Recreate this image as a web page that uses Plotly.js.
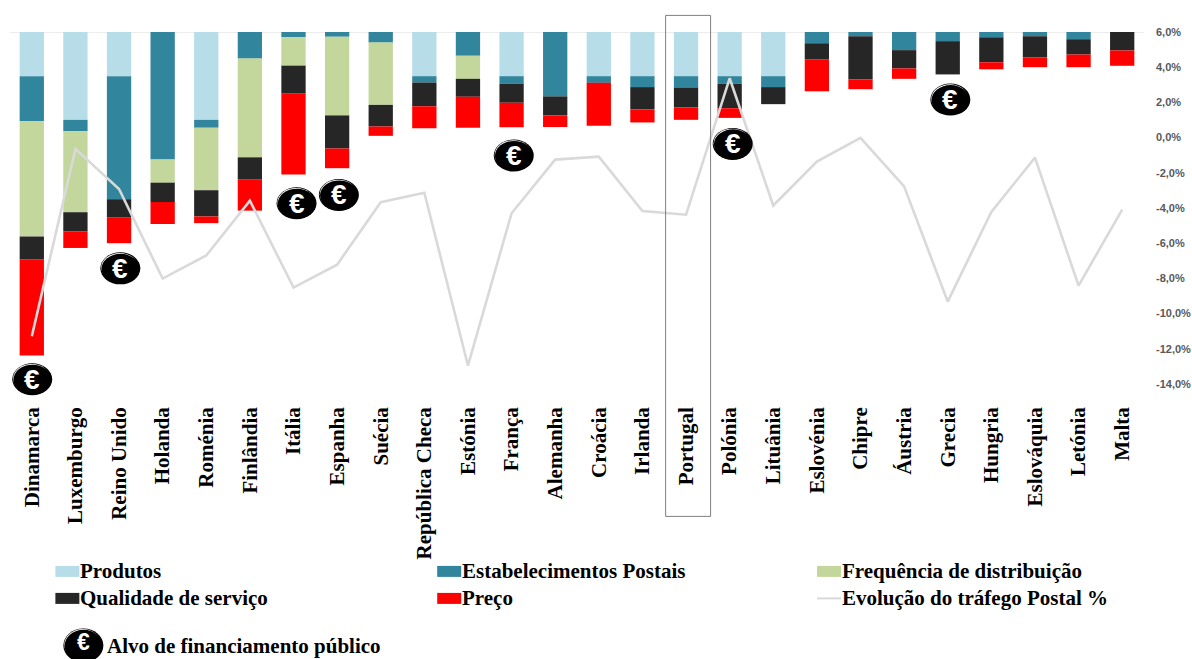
<!DOCTYPE html>
<html lang="pt">
<head>
<meta charset="utf-8">
<title>Tráfego postal e obrigações de serviço universal</title>
<script src="https://cdn.plot.ly/plotly-3.0.1.min.js"></script>
<style>
  html, body { margin: 0; padding: 0; background: #fff; }
  #chart { width: 1192px; height: 659px; }
</style>
</head>
<body>
<div id="chart"></div>
<script>
// Countries along the horizontal axis
const countries = ["Dinamarca","Luxemburgo","Reino Unido","Holanda","Roménia","Finlândia","Itália","Espanha","Suécia","República Checa","Estónia","França","Alemanha","Croácia","Irlanda","Portugal","Polónia","Lituânia","Eslovénia","Chipre","Áustria","Grecia","Hungria","Eslováquia","Letónia","Malta"];

// Size of each stacked segment, in percentage points, hanging from the 6% line
const produtos =        [2.51,4.99,2.51,0,4.99,0,0,0,0,2.51,0,2.51,0,2.51,2.51,2.51,2.51,2.51,0,0,0,0,0,0,0,0];
const estabelecimentos = [2.56,0.65,6.99,7.24,0.45,1.51,0.30,0.27,0.60,0.36,1.35,0.43,3.66,0.38,0.62,0.64,0.43,0.62,0.64,0.24,1.03,0.52,0.30,0.24,0.41,0];
const frequencia =      [6.55,4.60,0,1.32,3.55,5.61,1.61,4.47,3.54,0,1.31,0,0,0,0,0,0,0,0,0,0,0,0,0,0,0];
const qualidade =       [1.31,1.10,1.02,1.10,1.49,1.27,1.59,1.88,1.23,1.35,1.02,1.08,1.08,0,1.27,1.14,1.39,0.97,0.93,2.46,1.04,1.89,1.42,1.21,0.87,1.05];
const preco =           [5.45,0.93,1.48,1.25,0.38,1.76,4.60,1.12,0.53,1.25,1.76,1.39,0.66,2.43,0.74,0.70,0.55,0,1.80,0.55,0.59,0,0.40,0.55,0.72,0.87];

// Yearly evolution of postal traffic, %
const trafego = [-11.29,-0.64,-2.92,-8.01,-6.70,-3.58,-8.52,-7.22,-3.67,-3.13,-12.95,-4.30,-1.25,-1.08,-4.17,-4.38,3.37,-3.86,-1.36,-0.02,-2.77,-9.32,-4.22,-1.14,-8.41,-4.09];

// Public funding targets: position along the axis and level of each badge
const alvoPosicao = [0.01,2.03,6.07,7.04,11.05,16.07,21.06];
const alvoNivel =   [-13.73,-7.43,-3.73,-3.26,-1.02,-0.36,2.16];

const valueTicks = [6,4,2,0,-2,-4,-6,-8,-10,-12,-14];
const valueLabels = ["6,0%","4,0%","2,0%","0,0%","-2,0%","-4,0%","-6,0%","-8,0%","-10,0%","-12,0%","-14,0%"];

const seriesNames = ["Produtos","Estabelecimentos Postais","Frequência de distribuição","Qualidade de serviço","Preço","Evolução do tráfego Postal %"];
const badgeName = "Alvo de financiamento público";
const colors = ["#b7dde8","#31859c","#c3d69b","#262626","#ff0000","#d9d9d9"];
const segments = [produtos, estabelecimentos, frequencia, qualidade, preco];

const W = 1192, H = 659;
const plotBox = {left: 9.6, right: 1144.1, top: 31.6, bottom: 383.6};
const yRange = [-14, 6];

const pxX = px => (px - plotBox.left) / (plotBox.right - plotBox.left);
const pxY = py => (plotBox.bottom - py) / (plotBox.bottom - plotBox.top);
const catToPaper = i => (i + 0.5) / countries.length;
const valToPaper = v => (v - yRange[0]) / (yRange[1] - yRange[0]);

// Each segment starts where the one above it ended
const running = countries.map(() => yRange[1]);
const traces = segments.map((values, s) => {
  const base = values.map((h, i) => {
    running[i] -= h;
    return running[i];
  });
  return {
    type: "bar",
    name: seriesNames[s],
    x: countries,
    y: values,
    base: base,
    width: 0.557,
    marker: {color: colors[s], line: {width: 0}},
    hoverinfo: "x+name"
  };
});

traces.push({
  type: "scatter",
  mode: "lines",
  name: seriesNames[5],
  x: countries,
  y: trafego,
  line: {color: colors[5], width: 2.6},
  hoverinfo: "x+y+name"
});

const shapes = [
  // Line at the top of the value scale
  {type: "line", xref: "paper", yref: "y", x0: 0, x1: 1, y0: yRange[1], y1: yRange[1],
   line: {color: "#d9d9d9", width: 1}, layer: "below"},
  // Frame around Portugal
  {type: "rect", xref: "paper", yref: "paper", x0: pxX(665.5), x1: pxX(710.5), y0: pxY(516), y1: pxY(15),
   line: {color: "#7f7f7f", width: 1}, fillcolor: "rgba(0,0,0,0)"}
];
const annotations = [];

// Black coin with a thin highlight at its upper-left rim and a white euro sign
function addBadge(xPaper, yPaper, w, h, fontSize, lift) {
  const coin = (dx, dy, ww, hh, fill) => ({
    type: "circle", xref: "paper", yref: "paper",
    xsizemode: "pixel", ysizemode: "pixel",
    xanchor: xPaper, yanchor: yPaper,
    x0: dx - ww / 2, x1: dx + ww / 2, y0: dy - hh / 2, y1: dy + hh / 2,
    fillcolor: fill, line: {width: 0}
  });
  shapes.push(coin(0, 0, w, h, "#000000"));
  shapes.push(coin(-0.6, 0.8, w - 3, h - 3, "#ffffff"));
  shapes.push(coin(0.2, -0.4, w - 2, h - 2, "#000000"));
  annotations.push({
    xref: "paper", yref: "paper", x: xPaper, y: yPaper, xanchor: "center", yanchor: "middle",
    yshift: lift, text: "€", showarrow: false,
    font: {family: "Liberation Sans, Arial, sans-serif", size: fontSize, color: "#ffffff", weight: 700}
  });
}

alvoPosicao.forEach((pos, i) => addBadge(catToPaper(pos), valToPaper(alvoNivel[i]), 40, 32, 28, 0));

// Legend: three columns, two rows, plus the badge key underneath
const legendFont = {family: "Liberation Serif, Times New Roman, serif", size: 21, color: "#000000", weight: 700};
const legendCols = [55, 437, 817];
const legendRows = [571, 598];
seriesNames.forEach((name, i) => {
  const cx = legendCols[i % 3], cy = legendRows[Math.floor(i / 3)];
  if (i === 5) {
    shapes.push({type: "line", xref: "paper", yref: "paper", x0: pxX(cx), x1: pxX(cx + 24), y0: pxY(cy), y1: pxY(cy),
                 line: {color: colors[i], width: 2}});
  } else {
    shapes.push({type: "rect", xref: "paper", yref: "paper", x0: pxX(cx), x1: pxX(cx + 24), y0: pxY(cy + 5.5), y1: pxY(cy - 5.5),
                 fillcolor: colors[i], line: {width: 0}});
  }
  annotations.push({xref: "paper", yref: "paper", x: pxX(cx + 23), y: pxY(cy), xanchor: "left", yanchor: "middle",
                    text: name, showarrow: false, font: legendFont});
});
addBadge(pxX(83), pxY(645), 40, 34, 23, 3);
annotations.push({xref: "paper", yref: "paper", x: pxX(104.5), y: pxY(645.5), xanchor: "left", yanchor: "middle",
                  text: badgeName, showarrow: false, font: legendFont});

const layout = {
  width: W,
  height: H,
  margin: {l: plotBox.left, r: W - plotBox.right, t: plotBox.top, b: H - plotBox.bottom, pad: 0},
  paper_bgcolor: "#ffffff",
  plot_bgcolor: "#ffffff",
  barmode: "overlay",
  showlegend: false,
  xaxis: {
    type: "category",
    categoryorder: "array",
    categoryarray: countries,
    range: [-0.5, 25.5],
    tickangle: -90,
    ticks: "",
    ticklabelstandoff: 18,
    tickfont: {family: "Liberation Serif, Times New Roman, serif", size: 21, color: "#000000", weight: 700},
    showgrid: false,
    zeroline: false,
    showline: false,
    automargin: false
  },
  yaxis: {
    side: "right",
    range: yRange,
    tickmode: "array",
    tickvals: valueTicks,
    ticktext: valueLabels,
    ticks: "",
    ticklabelstandoff: 11,
    tickfont: {family: "Liberation Sans, Arial, sans-serif", size: 11, color: "#595959", weight: 700},
    showgrid: false,
    zeroline: false,
    showline: false,
    automargin: false
  },
  shapes: shapes,
  annotations: annotations
};

Plotly.newPlot("chart", traces, layout, {displayModeBar: false, responsive: false});
</script>
</body>
</html>
